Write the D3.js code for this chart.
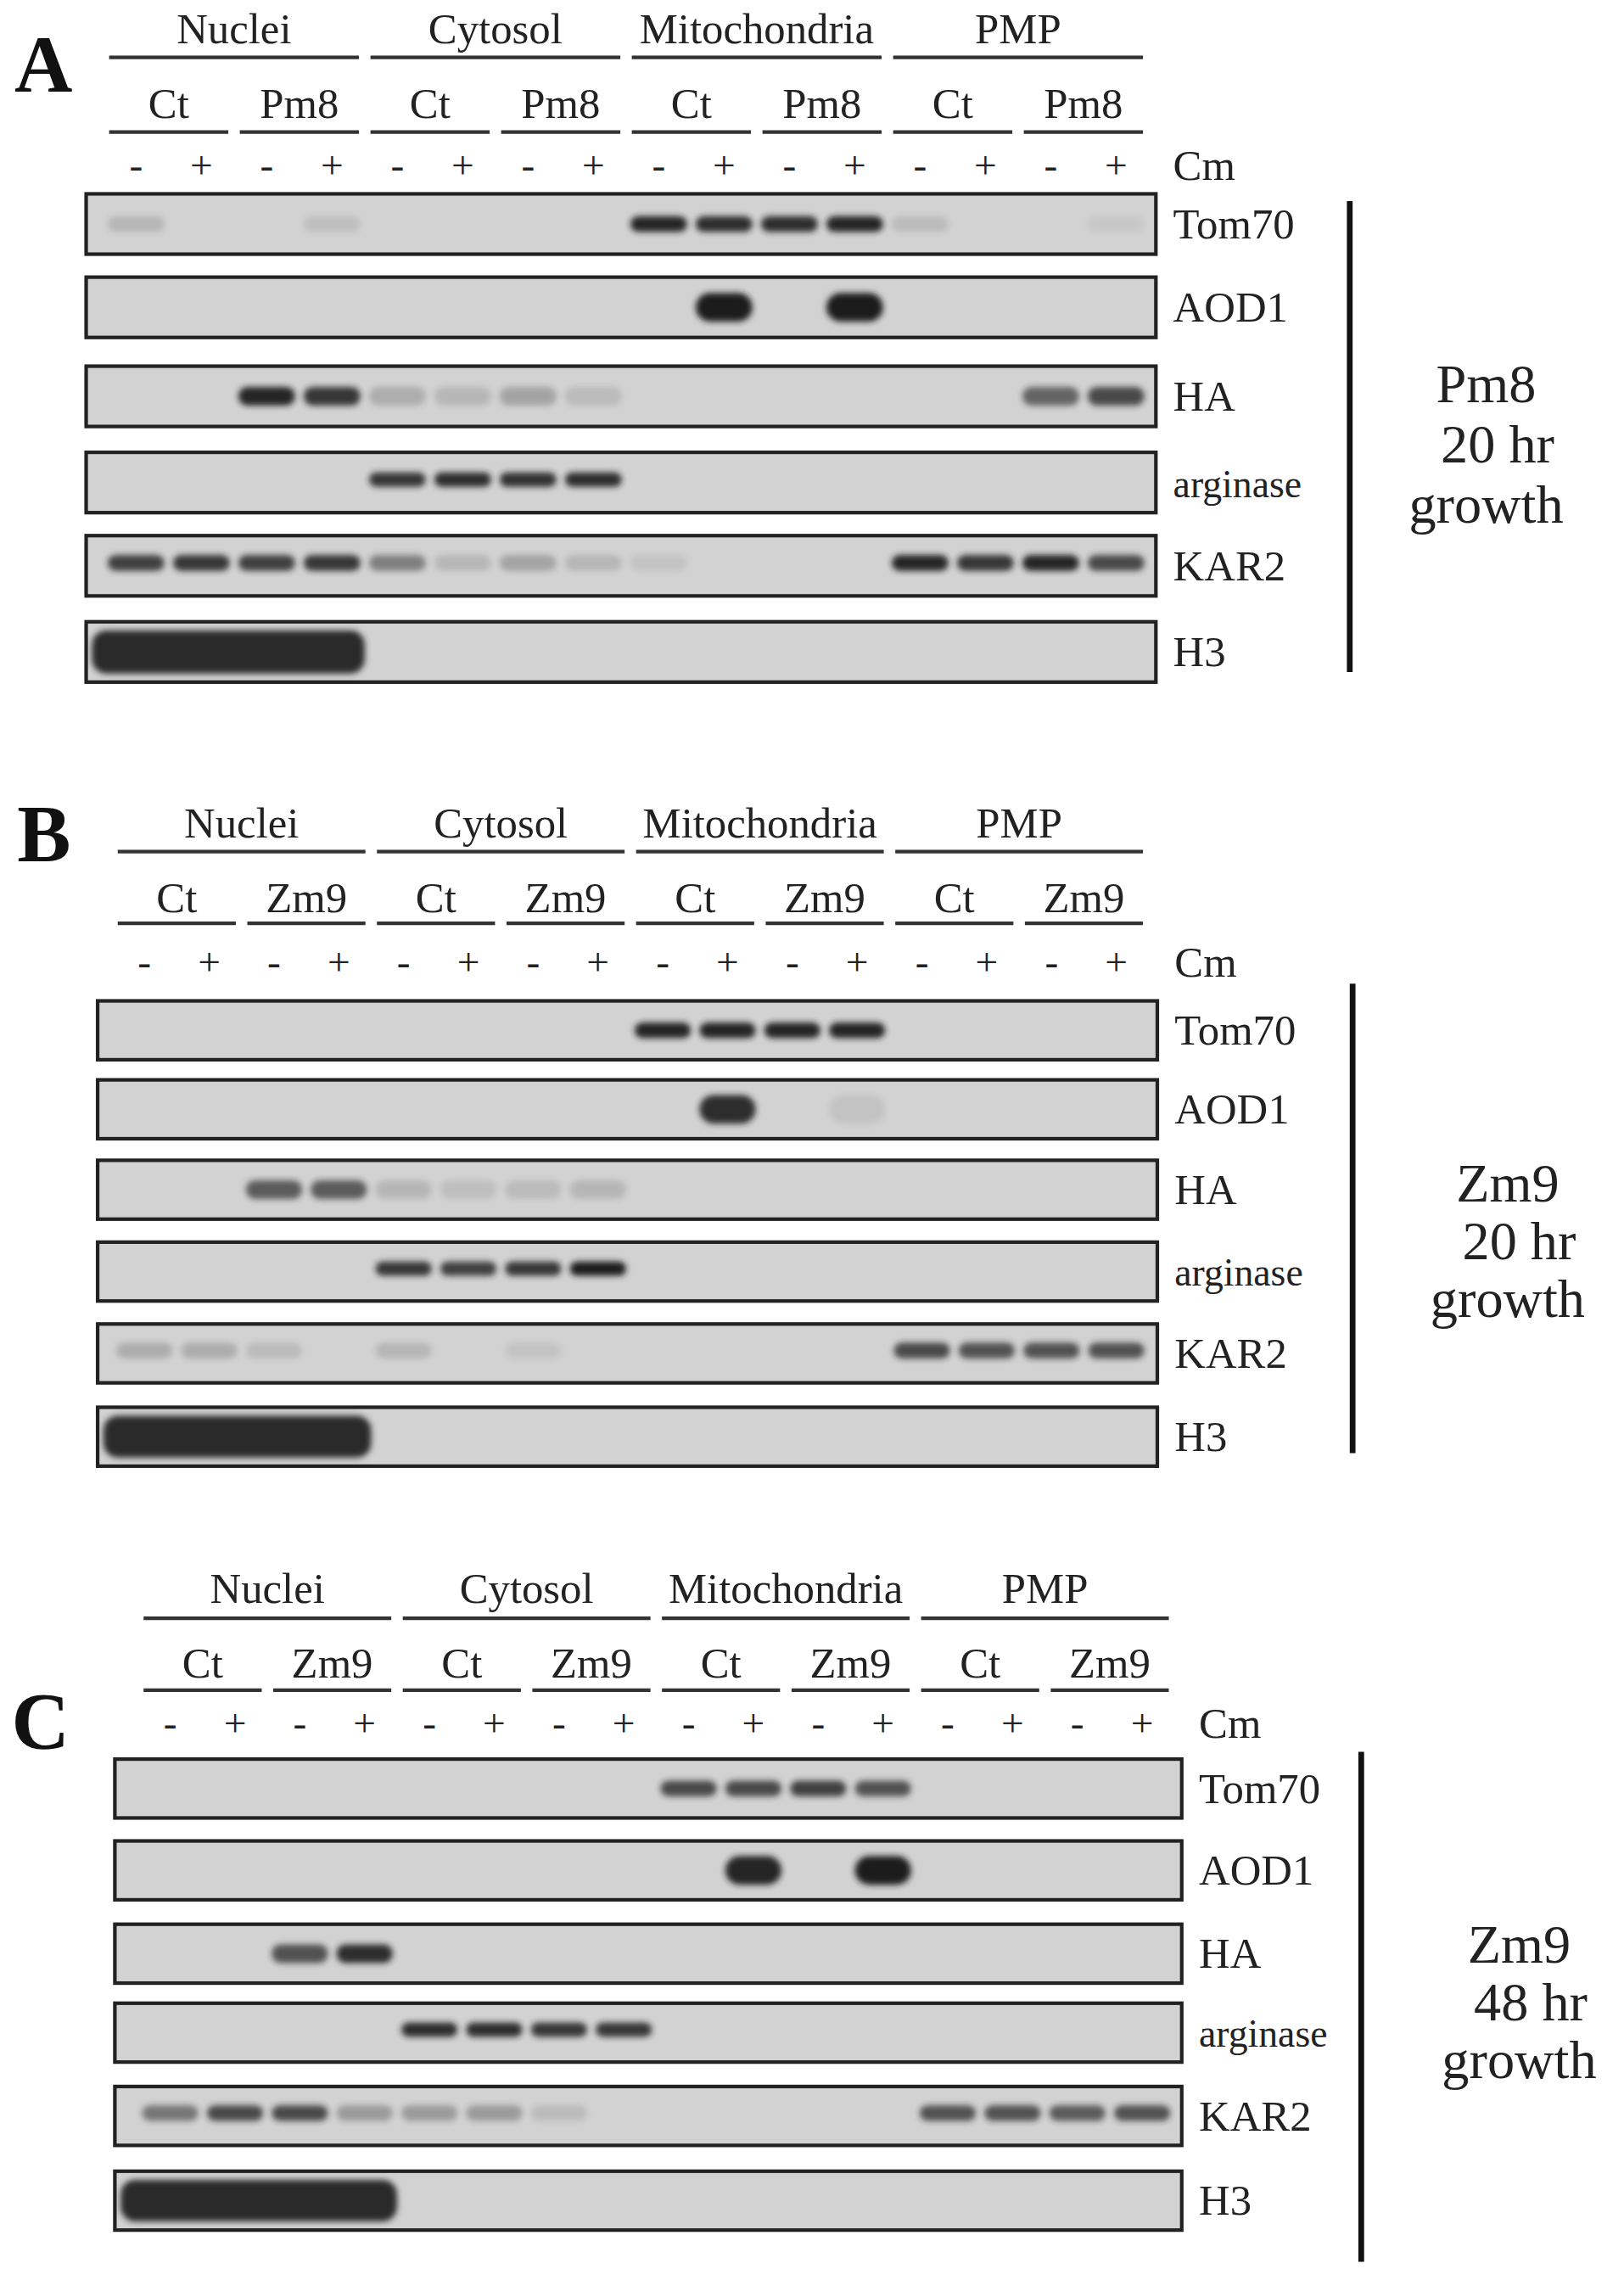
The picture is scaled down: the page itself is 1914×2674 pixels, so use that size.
<!DOCTYPE html>
<html><head><meta charset="utf-8">
<script src="https://cdn.jsdelivr.net/npm/d3@7"></script>
<style>body{margin:0;background:#fff}</style></head>
<body><svg id="c" width="1914" height="2674"></svg>
<script>
const proteins = ["Tom70","AOD1","HA","arginase","KAR2","H3"];
const fractions = ["Nuclei","Cytosol","Mitochondria","PMP"];
const cmLabels = ["-","+","-","+","-","+","-","+","-","+","-","+","-","+","-","+"];
const strainsA = ["Ct","Pm8"], strainsB = ["Ct","Zm9"], strainsC = ["Ct","Zm9"];
// band intensities per lane (16 lanes) for each protein
const bandsA = {
  Tom70:    [0.15,0,0,0.1,0,0,0,0,0.95,0.9,0.9,0.95,0.12,0,0,0.05],
  AOD1:     [0,0,0,0,0,0,0,0,0,1,0,1,0,0,0,0],
  HA:       [0,0,0.95,0.85,0.2,0.15,0.25,0.12,0,0,0,0,0,0,0.6,0.75],
  arginase: [0,0,0,0,0.85,0.9,0.88,0.9,0,0,0,0,0,0,0,0],
  KAR2:     [0.8,0.85,0.8,0.85,0.45,0.15,0.25,0.15,0.08,0,0,0,0.95,0.85,0.95,0.75],
  H3:       [1,1,1,1,0,0,0,0,0,0,0,0,0,0,0,0]
};
const bandsB = {
  Tom70:    [0,0,0,0,0,0,0,0,0.95,0.95,0.95,0.95,0,0,0,0],
  AOD1:     [0,0,0,0,0,0,0,0,0,0.9,0,0.08,0,0,0,0],
  HA:       [0,0,0.65,0.65,0.15,0.1,0.12,0.15,0,0,0,0,0,0,0,0],
  arginase: [0,0,0,0,0.85,0.8,0.85,1,0,0,0,0,0,0,0,0],
  KAR2:     [0.2,0.2,0.12,0,0.15,0,0.08,0,0,0,0,0,0.75,0.7,0.7,0.7],
  H3:       [1,1,1,1,0,0,0,0,0,0,0,0,0,0,0,0]
};
const bandsC = {
  Tom70:    [0,0,0,0,0,0,0,0,0.75,0.75,0.8,0.7,0,0,0,0],
  AOD1:     [0,0,0,0,0,0,0,0,0,0.95,0,1,0,0,0,0],
  HA:       [0,0,0.7,0.9,0,0,0,0,0,0,0,0,0,0,0,0],
  arginase: [0,0,0,0,0.9,0.9,0.85,0.85,0,0,0,0,0,0,0,0],
  KAR2:     [0.5,0.75,0.75,0.3,0.3,0.3,0.12,0,0,0,0,0,0.7,0.7,0.65,0.7],
  H3:       [1,1,1,1,0,0,0,0,0,0,0,0,0,0,0,0]
};
const bandShape = {Tom70:{h:11,dy:0},AOD1:{h:20,dy:0},HA:{h:13,dy:0},arginase:{h:10,dy:-2},KAR2:{h:11,dy:-2},H3:{h:30,dy:0}};
const panels = [
  {letter:"A", lx:10, ly:64, x0:60, x1:805, lane0:72, lane1:800, nameY:20, line1:40, subY:72, line2:92, cmY:115,
   strips:[135,193,255,315,373,433], stripH:42, vx:940, vy0:140, vy1:468, side:["Pm8","20 hr","growth"], sideY:[268,310,352], sideX:1035, strains:strainsA, bands:bandsA},
  {letter:"B", lx:12, ly:600, x0:68, x1:806, lane0:78, lane1:800, nameY:573, line1:593, subY:625, line2:643, cmY:670,
   strips:[697,752,808,865,922,980], stripH:41, vx:942, vy0:685, vy1:1012, side:["Zm9","20 hr","growth"], sideY:[825,865,905], sideX:1050, strains:strainsB, bands:bandsB},
  {letter:"C", lx:8, ly:1218, x0:80, x1:823, lane0:96, lane1:818, nameY:1106, line1:1127, subY:1158, line2:1177, cmY:1200,
   strips:[1225,1282,1340,1395,1453,1512], stripH:41, vx:948, vy0:1220, vy1:1575, side:["Zm9","48 hr","growth"], sideY:[1355,1395,1435], sideX:1058, strains:strainsC, bands:bandsC}
];
const k = 1914/1131;
const svg = d3.select("#c");
const defs = svg.append("defs");
defs.append("filter").attr("id","blur").attr("x","-50%").attr("y","-100%").attr("width","200%").attr("height","300%")
  .append("feGaussianBlur").attr("stdDeviation",2.2);
const g = svg.append("g").attr("transform",`scale(${k})`);
const font = "Liberation Serif, Times New Roman, serif";
panels.forEach(p=>{
  const lanes = d3.range(16);
  const x = d3.scaleBand().domain(lanes).range([p.lane0,p.lane1]);
  const bw = x.bandwidth();
  const gp = g.append("g");
  gp.append("text").attr("x",p.lx).attr("y",p.ly).text(p.letter)
    .attr("font-family",font).attr("font-weight","bold").attr("font-size",56).attr("fill","#111");
  fractions.forEach((f,i)=>{
    const a = x(i*4), b = x(i*4+3)+bw;
    gp.append("text").attr("x",(a+b)/2).attr("y",p.nameY+10).attr("text-anchor","middle").text(f)
      .attr("font-family",font).attr("font-size",30).attr("fill","#222");
    gp.append("line").attr("x1",a+4).attr("x2",b-4).attr("y1",p.line1).attr("y2",p.line1).attr("stroke","#333").attr("stroke-width",2.5);
    p.strains.forEach((s,j)=>{
      const a2 = x(i*4+j*2), b2 = x(i*4+j*2+1)+bw;
      gp.append("text").attr("x",(a2+b2)/2).attr("y",p.subY+10).attr("text-anchor","middle").text(s)
        .attr("font-family",font).attr("font-size",30).attr("fill","#222");
      gp.append("line").attr("x1",a2+4).attr("x2",b2-4).attr("y1",p.line2).attr("y2",p.line2).attr("stroke","#333").attr("stroke-width",2.5);
    });
  });
  cmLabels.forEach((c,i)=>{
    gp.append("text").attr("x",x(i)+bw/2).attr("y",p.cmY+9).attr("text-anchor","middle").text(c)
      .attr("font-family",font).attr("font-size",28).attr("fill","#222");
  });
  gp.append("text").attr("x",p.x1+12).attr("y",p.cmY+10).text("Cm").attr("font-family",font).attr("font-size",30).attr("fill","#222");
  proteins.forEach((pr,r)=>{
    const y0 = p.strips[r], h = p.stripH;
    gp.append("rect").attr("x",p.x0).attr("y",y0).attr("width",p.x1-p.x0).attr("height",h)
      .attr("fill","#d2d2d2").attr("stroke","#222").attr("stroke-width",2.5);
    const sh = bandShape[pr];
    const vals = p.bands[pr];
    if(pr==="H3"){
      const b = x(3)+bw;
      gp.append("rect").attr("x",p.x0+4).attr("y",y0+6).attr("width",b-p.x0-4).attr("height",h-12).attr("rx",10)
        .attr("fill","#2a2a2a").attr("filter","url(#blur)");
    } else {
      gp.append("g").selectAll("rect").data(vals.map((v,i)=>({v,i})).filter(d=>d.v>0)).join("rect")
        .attr("x",d=>x(d.i)+3).attr("width",bw-6)
        .attr("y",y0+h/2-sh.h/2+sh.dy).attr("height",sh.h).attr("rx",sh.h/2)
        .attr("fill","#1e1e1e").attr("opacity",d=>d.v).attr("filter","url(#blur)");
    }
    gp.append("text").attr("x",p.x1+12).attr("y",y0+h/2+10).text(pr)
      .attr("font-family",font).attr("font-size",pr==="arginase"?27:30).attr("fill","#222");
  });
  gp.append("line").attr("x1",p.vx).attr("x2",p.vx).attr("y1",p.vy0).attr("y2",p.vy1).attr("stroke","#111").attr("stroke-width",4);
  p.side.forEach((s,i)=>{
    gp.append("text").attr("x",p.sideX+(i===1?8:0)).attr("y",p.sideY[i]+12).attr("text-anchor","middle").text(s)
      .attr("font-family",font).attr("font-size",38).attr("fill","#222");
  });
});
</script></body></html>
